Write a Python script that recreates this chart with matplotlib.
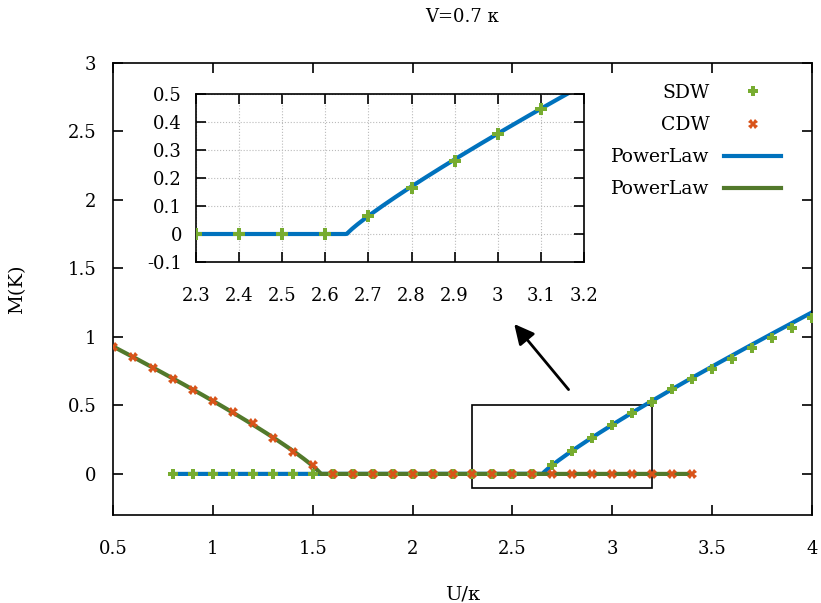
import matplotlib
matplotlib.use("Agg")
import matplotlib.pyplot as plt
import numpy as np

plt.rcParams["font.family"] = ["DejaVu Serif"]
plt.rcParams["mathtext.fontset"] = "dejavuserif"

# SDW order parameter, U = 0.8 .. 4.0
sdw_u = [0.8, 0.9, 1.0, 1.1, 1.2, 1.3, 1.4, 1.5, 1.6, 1.7, 1.8, 1.9, 2.0, 2.1, 2.2,
         2.3, 2.4, 2.5, 2.6, 2.7, 2.8, 2.9, 3.0, 3.1, 3.2, 3.3, 3.4, 3.5, 3.6, 3.7,
         3.8, 3.9, 4.0]
sdw_m = [0, 0, 0, 0, 0, 0, 0, 0, 0, 0, 0, 0, 0, 0, 0,
         0, 0, 0, 0, 0.063, 0.164, 0.261, 0.357, 0.445, 0.528, 0.618, 0.69, 0.766,
         0.839, 0.917, 0.99, 1.068, 1.141]

# CDW order parameter, U = 0.5 .. 3.4
cdw_u = [0.5, 0.6, 0.7, 0.8, 0.9, 1.0, 1.1, 1.2, 1.3, 1.4, 1.5, 1.6, 1.7, 1.8, 1.9,
         2.0, 2.1, 2.2, 2.3, 2.4, 2.5, 2.6, 2.7, 2.8, 2.9, 3.0, 3.1, 3.2, 3.3, 3.4]
cdw_m = [0.93, 0.85, 0.77, 0.69, 0.613, 0.533, 0.45, 0.37, 0.265, 0.163, 0.066,
         0, 0, 0, 0, 0, 0, 0, 0, 0, 0, 0, 0, 0, 0, 0, 0, 0, 0, 0]

# power-law fit parameters M = a*|U-Uc|^b
sdw_fit = dict(uc=2.65, a=0.905, b=0.882, lo=0.8, hi=4.0)
cdw_fit = dict(uc=1.54, a=0.90, b=0.85, lo=0.5, hi=3.4)

blue = "#0072bd"
olive = "#52792b"
green = "#77ac30"
orange = "#d95319"


def fit_curve(p, above):
    u = np.linspace(p["lo"], p["hi"], 800)
    d = (u - p["uc"]) if above else (p["uc"] - u)
    m = p["a"] * np.clip(d, 0, None) ** p["b"]
    return u, m


fig = plt.figure(figsize=(8.21, 6.03), dpi=100)
W, H = 821, 603
ax = fig.add_axes([113 / W, 1 - 515 / H, (812 - 113) / W, (515 - 63) / H])

su, sm = fit_curve(sdw_fit, True)
cu, cm = fit_curve(cdw_fit, False)

ax.plot([], [], ls="none", marker="P", ms=7, mew=0, color=green, label="SDW")
ax.plot([], [], ls="none", marker="X", ms=7, mew=0, color=orange, label="CDW")
ax.plot(su, sm, color=blue, lw=3, label="PowerLaw", zorder=2)
ax.plot(cu, cm, color=olive, lw=3, label="PowerLaw", zorder=2)
ax.plot(sdw_u, sdw_m, ls="none", marker="P", ms=7, mew=0, color=green, zorder=3)
ax.plot(cdw_u, cdw_m, ls="none", marker="X", ms=7, mew=0, color=orange, zorder=3)

ax.set_xlim(0.5, 4)
ax.set_ylim(-0.3, 3)
ax.set_xticks(np.arange(0.5, 4.01, 0.5))
ax.set_xticklabels(["0.5", "1", "1.5", "2", "2.5", "3", "3.5", "4"])
ax.set_yticks(np.arange(0, 3.01, 0.5))
ax.set_yticklabels(["0", "0.5", "1", "1.5", "2", "2.5", "3"])
ax.tick_params(direction="in", top=True, right=True, length=7, width=1.2,
               labelsize=13)
ax.tick_params(axis="x", pad=18)
ax.tick_params(axis="y", pad=12)
for s in ax.spines.values():
    s.set_linewidth(1.2)

ax.set_xlabel("U/κ", fontsize=14, labelpad=20)
ax.set_ylabel("M(K)", fontsize=14, labelpad=30)
fig.text(462 / W, 1 - 17 / H, "V=0.7 κ", ha="center", va="center", fontsize=13)

ax.legend(loc="upper right", bbox_to_anchor=(0.966, 0.97), frameon=False,
          markerfirst=False, fontsize=13.5, handlelength=3.0, labelspacing=0.75,
          handletextpad=0.8, borderaxespad=0)

# zoom box and arrow
ax.add_patch(plt.Rectangle((2.3, -0.1), 0.9, 0.6, fill=False, ec="black", lw=1.2))
ax.annotate("", xy=(2.5, 1.11), xytext=(2.79, 0.6),
            arrowprops=dict(arrowstyle="-|>", color="black", lw=2,
                            mutation_scale=30))

# inset
ins = fig.add_axes([196 / W, 1 - 262 / H, (584 - 196) / W, (262 - 94) / H])
ins.plot(su, sm, color=blue, lw=3, zorder=2)
ins.plot(sdw_u, sdw_m, ls="none", marker="P", ms=8, mew=0, color=green, zorder=3)
ins.set_xlim(2.3, 3.2)
ins.set_ylim(-0.1, 0.5)
ins.set_xticks(np.arange(2.3, 3.201, 0.1))
ins.set_xticklabels(["2.3", "2.4", "2.5", "2.6", "2.7", "2.8", "2.9", "3", "3.1", "3.2"])
ins.set_yticks(np.arange(-0.1, 0.501, 0.1))
ins.set_yticklabels(["-0.1", "0", "0.1", "0.2", "0.3", "0.4", "0.5"])
ins.grid(True, ls=":", color="#bbbbbb", lw=0.8)
ins.tick_params(direction="in", top=True, right=True, length=7, width=1.2,
                labelsize=13)
ins.tick_params(axis="x", pad=18)
ins.tick_params(axis="y", pad=10)
for s in ins.spines.values():
    s.set_linewidth(1.2)

fig.savefig("out.png", dpi=100)
